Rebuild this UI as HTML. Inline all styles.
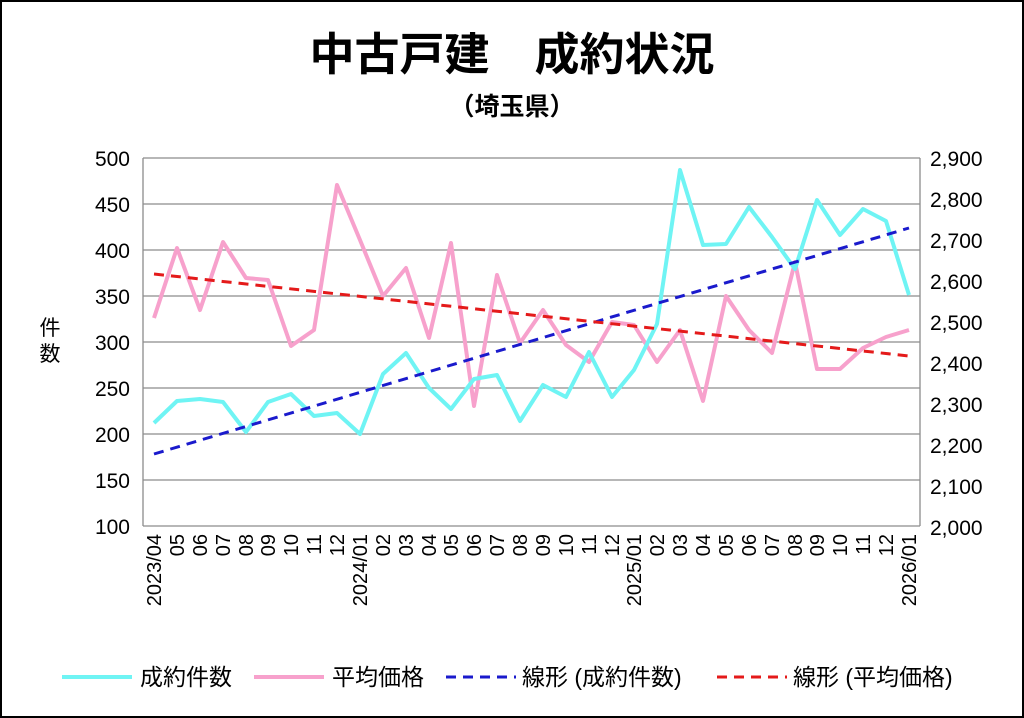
<!DOCTYPE html>
<html><head><meta charset="utf-8"><style>
html,body{margin:0;padding:0;background:#fff}
svg{display:block}
text{font-family:"Liberation Sans","Noto Sans CJK JP",sans-serif;fill:#000}
</style></head><body>
<svg width="1024" height="718" viewBox="0 0 1024 718" xmlns="http://www.w3.org/2000/svg">
<rect x="1" y="1" width="1022" height="716" fill="#fff" stroke="#000" stroke-width="2"/>
<text x="512" y="70" font-size="45" font-weight="bold" text-anchor="middle">中古戸建　成約状況</text>
<text x="512" y="115" font-size="25" font-weight="bold" text-anchor="middle">（埼玉県）</text>
<g stroke="#8c8c8c" stroke-width="1.3">
<line x1="143" y1="158" x2="920" y2="158"/><line x1="143" y1="204" x2="920" y2="204"/>
<line x1="143" y1="250" x2="920" y2="250"/><line x1="143" y1="296" x2="920" y2="296"/>
<line x1="143" y1="342" x2="920" y2="342"/><line x1="143" y1="388" x2="920" y2="388"/>
<line x1="143" y1="434" x2="920" y2="434"/><line x1="143" y1="480" x2="920" y2="480"/>
<line x1="143" y1="526" x2="920" y2="526"/>
<line x1="143" y1="158" x2="143" y2="526"/><line x1="920" y1="158" x2="920" y2="526"/>
</g>
<g font-size="21" text-anchor="end">
<text x="130" y="166">500</text><text x="130" y="212">450</text><text x="130" y="258">400</text>
<text x="130" y="304">350</text><text x="130" y="350">300</text><text x="130" y="396">250</text>
<text x="130" y="442">200</text><text x="130" y="488">150</text><text x="130" y="534">100</text>
</g>
<g font-size="21" text-anchor="start">
<text x="930" y="166">2,900</text><text x="930" y="207">2,800</text><text x="930" y="248">2,700</text>
<text x="930" y="289">2,600</text><text x="930" y="330">2,500</text><text x="930" y="371">2,400</text>
<text x="930" y="412">2,300</text><text x="930" y="453">2,200</text><text x="930" y="494">2,100</text>
<text x="930" y="535">2,000</text>
</g>
<text x="50" y="335" font-size="21" text-anchor="middle">件</text>
<text x="50" y="361" font-size="21" text-anchor="middle">数</text>
<g font-size="20" text-anchor="end">
<text transform="translate(161,534) rotate(-90)">2023/04</text>
<text transform="translate(184,534) rotate(-90)">05</text>
<text transform="translate(207,534) rotate(-90)">06</text>
<text transform="translate(230,534) rotate(-90)">07</text>
<text transform="translate(253,534) rotate(-90)">08</text>
<text transform="translate(275,534) rotate(-90)">09</text>
<text transform="translate(298,534) rotate(-90)">10</text>
<text transform="translate(321,534) rotate(-90)">11</text>
<text transform="translate(344,534) rotate(-90)">12</text>
<text transform="translate(367,534) rotate(-90)">2024/01</text>
<text transform="translate(390,534) rotate(-90)">02</text>
<text transform="translate(413,534) rotate(-90)">03</text>
<text transform="translate(436,534) rotate(-90)">04</text>
<text transform="translate(458,534) rotate(-90)">05</text>
<text transform="translate(481,534) rotate(-90)">06</text>
<text transform="translate(504,534) rotate(-90)">07</text>
<text transform="translate(527,534) rotate(-90)">08</text>
<text transform="translate(550,534) rotate(-90)">09</text>
<text transform="translate(573,534) rotate(-90)">10</text>
<text transform="translate(596,534) rotate(-90)">11</text>
<text transform="translate(619,534) rotate(-90)">12</text>
<text transform="translate(641,534) rotate(-90)">2025/01</text>
<text transform="translate(664,534) rotate(-90)">02</text>
<text transform="translate(687,534) rotate(-90)">03</text>
<text transform="translate(710,534) rotate(-90)">04</text>
<text transform="translate(733,534) rotate(-90)">05</text>
<text transform="translate(756,534) rotate(-90)">06</text>
<text transform="translate(779,534) rotate(-90)">07</text>
<text transform="translate(802,534) rotate(-90)">08</text>
<text transform="translate(824,534) rotate(-90)">09</text>
<text transform="translate(847,534) rotate(-90)">10</text>
<text transform="translate(870,534) rotate(-90)">11</text>
<text transform="translate(893,534) rotate(-90)">12</text>
<text transform="translate(916,534) rotate(-90)">2026/01</text>
</g>
<polyline fill="none" stroke="#f7a1cc" stroke-width="4" stroke-linejoin="round" points="154,318 177,248 200,310 223,242 246,278 268,280 291,346 314,330 337,185 360,240 383,296 406,268 429,338 451,243 474,406 497,275 520,343 543,310 566,345 589,362 612,322 634,325 657,362 680,330 703,401 726,296 749,330 772,353 795,262 817,369 840,369 863,348 886,337 909,330"/>
<polyline fill="none" stroke="#6ff4f4" stroke-width="4" stroke-linejoin="round" points="154,423 177,401 200,399 223,402 246,432 268,402 291,394 314,416 337,413 360,434 383,374 406,353 429,388 451,409 474,379 497,375 520,421 543,385 566,397 589,352 612,397 634,370 657,324 680,170 703,245 726,244 749,207 772,237 795,269 817,200 840,235 863,209 886,221 909,295"/>
<line x1="154" y1="454" x2="909" y2="228" stroke="#1a1acc" stroke-width="3" stroke-dasharray="10,7"/>
<line x1="154" y1="274" x2="909" y2="356" stroke="#e41a1a" stroke-width="3" stroke-dasharray="10,7"/>
<g font-size="23">
<line x1="62" y1="677" x2="132" y2="677" stroke="#6ff4f4" stroke-width="4"/>
<text x="140" y="685">成約件数</text>
<line x1="254" y1="677" x2="324" y2="677" stroke="#f7a1cc" stroke-width="4"/>
<text x="332" y="685">平均価格</text>
<line x1="446" y1="677" x2="516" y2="677" stroke="#1a1acc" stroke-width="3" stroke-dasharray="10,7"/>
<text x="522" y="685">線形 (成約件数)</text>
<line x1="717" y1="677" x2="787" y2="677" stroke="#e41a1a" stroke-width="3" stroke-dasharray="10,7"/>
<text x="793" y="685">線形 (平均価格)</text>
</g>
</svg>
</body></html>
